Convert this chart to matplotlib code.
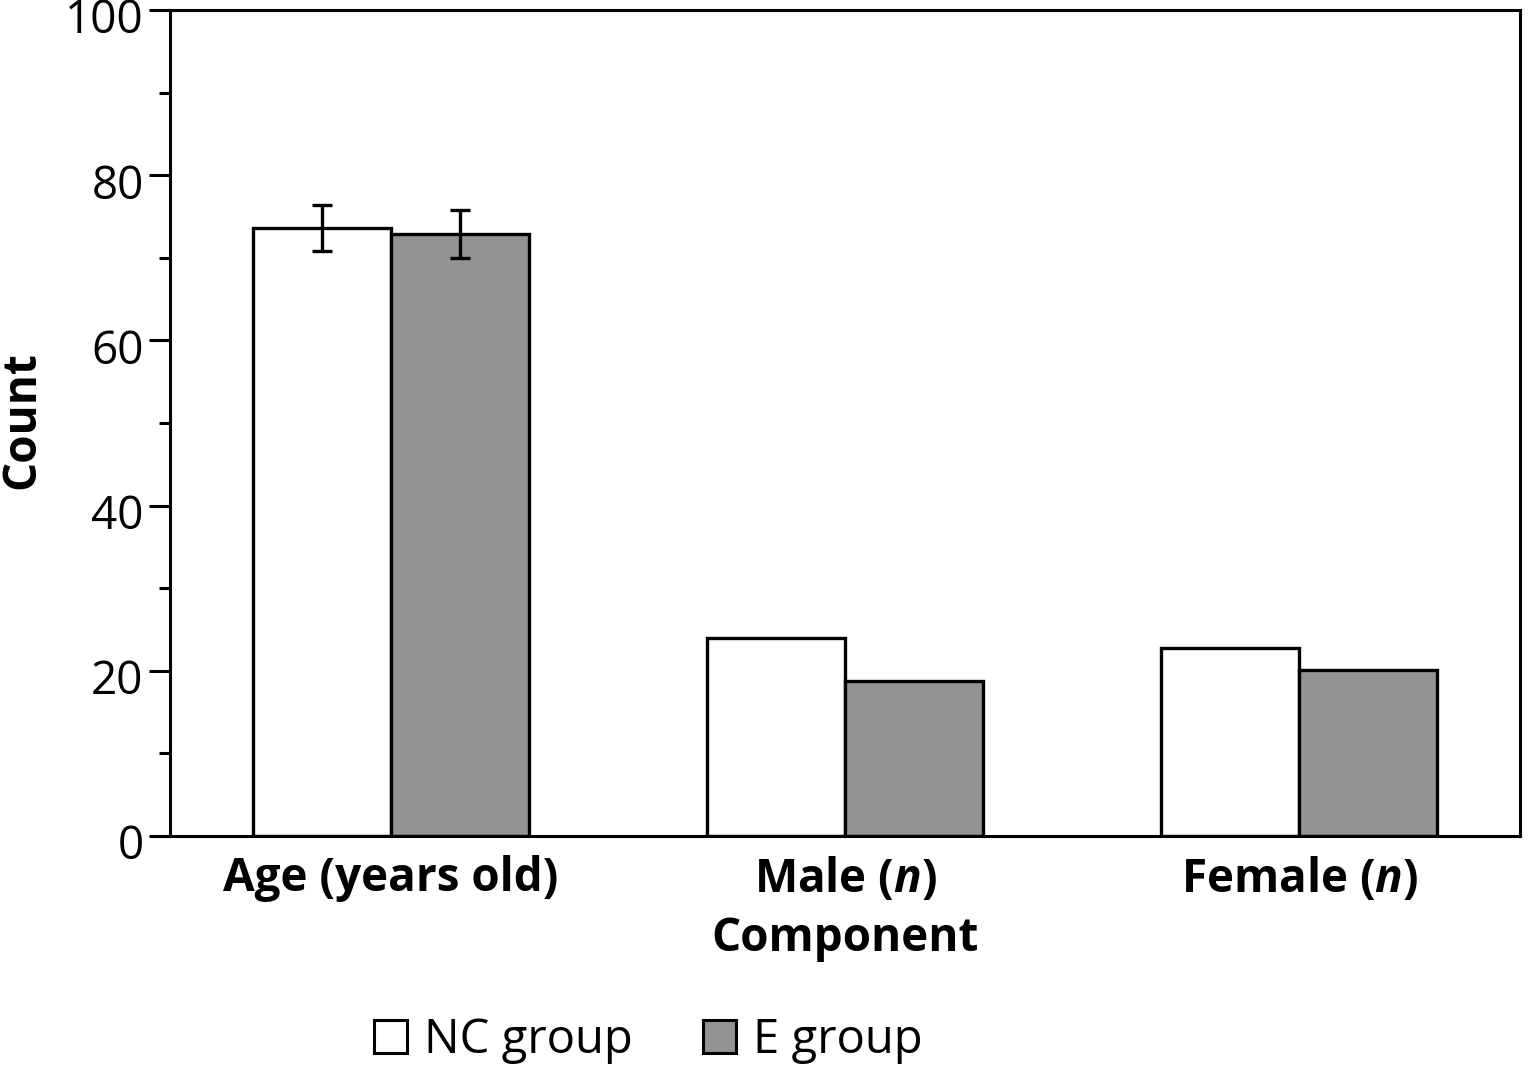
import matplotlib
matplotlib.use("Agg")
import matplotlib.pyplot as plt
import matplotlib.transforms as mtransforms
import numpy as np
from matplotlib.patches import Patch
from matplotlib.ticker import MultipleLocator

plt.rcParams['font.family'] = ['Open Sans', 'DejaVu Sans']
plt.rcParams['mathtext.fontset'] = 'custom'
plt.rcParams['mathtext.rm'] = 'Open Sans:bold'
plt.rcParams['mathtext.it'] = 'Open Sans:italic:bold'
plt.rcParams['mathtext.bf'] = 'Open Sans:bold'

categories = ["Age (years old)", r"Male ($n$)", r"Female ($n$)"]
nc_values = [73.6, 24.0, 22.8]
e_values = [72.9, 18.8, 20.1]
nc_err = [2.8, 0, 0]
e_err = [2.9, 0, 0]
series_names = ["NC group", "E group"]
yticks = [0, 20, 40, 60, 80, 100]

fig = plt.figure(figsize=(15.29, 10.69), dpi=100)
ax = fig.add_axes([0.1112, 0.218, 0.883, 0.7727])

x = np.arange(len(categories))
w = 0.304
lw = 2.4
ax.bar(x - w/2, nc_values, w, color='white', edgecolor='black', linewidth=lw, zorder=2)
ax.bar(x + w/2, e_values, w, color='#939393', edgecolor='black', linewidth=lw, zorder=2)

err_idx = [0]
ax.errorbar(x[err_idx] - w/2, [nc_values[i] for i in err_idx], yerr=[nc_err[i] for i in err_idx],
            fmt='none', ecolor='black', elinewidth=2.4, capsize=7.5, capthick=2.4, zorder=3)
ax.errorbar(x[err_idx] + w/2, [e_values[i] for i in err_idx], yerr=[e_err[i] for i in err_idx],
            fmt='none', ecolor='black', elinewidth=2.4, capsize=7.5, capthick=2.4, zorder=3)

ax.set_xlim(-0.487, 2.487)
ax.set_ylim(0, 100)
ax.set_yticks(yticks)
ax.set_yticklabels([str(t) for t in yticks])
ax.yaxis.set_minor_locator(MultipleLocator(10))
ax.set_xticks(x)
ax.set_xticklabels(categories, fontsize=33, fontweight='bold')
ax.tick_params(axis='x', length=0, pad=14)
ax.tick_params(axis='y', which='major', length=15, width=2.2, labelsize=33, pad=4)
ax.tick_params(axis='y', which='minor', length=8, width=2.2)
for s in ax.spines.values():
    s.set_linewidth(2.2)

offset = mtransforms.ScaledTranslation(0, -6/100, fig.dpi_scale_trans)
for lab in ax.get_yticklabels():
    lab.set_transform(lab.get_transform() + offset)

ax.set_xlabel("Component", fontsize=33, fontweight='bold', labelpad=8)
ax.set_ylabel("Count", fontsize=33, fontweight='bold', va='center')
ax.yaxis.set_label_coords(22/1529, 0.5, transform=fig.transFigure)
ax.yaxis.label.set_position((22/1529, 1 - 420/1069))

handles = [Patch(facecolor='white', edgecolor='black', linewidth=2.2),
           Patch(facecolor='#939393', edgecolor='black', linewidth=2.2)]
fig.legend(handles, series_names, loc='center', bbox_to_anchor=(0.424, 0.027), ncol=2,
           frameon=False, fontsize=34, handlelength=0.7, handleheight=0.7,
           handletextpad=0.35, columnspacing=1.5)

fig.savefig("out.png", dpi=100)
